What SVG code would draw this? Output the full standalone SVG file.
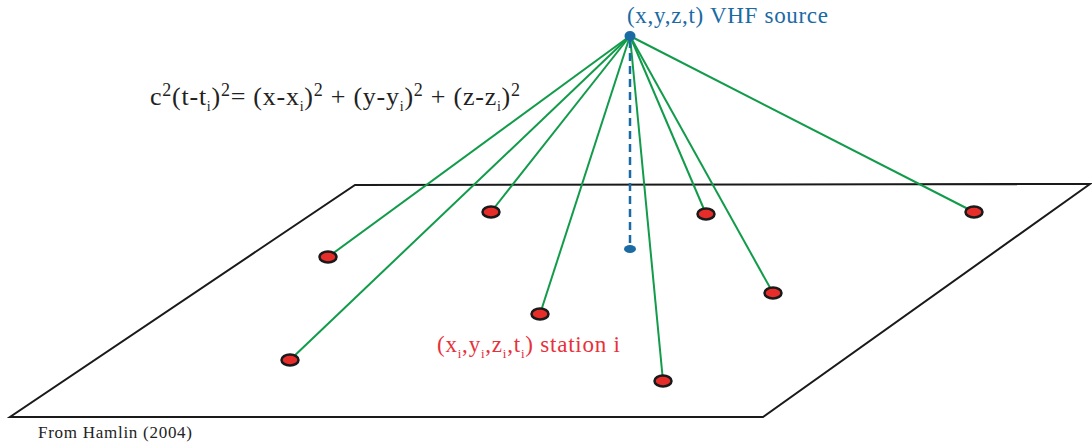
<svg xmlns="http://www.w3.org/2000/svg" width="1092" height="447" viewBox="0 0 1092 447">
<style>
.conn{stroke:#119b4a;stroke-width:2;fill:none}
.st{fill:#e62d2a;stroke:#1a1a1a;stroke-width:2.5}
.t{font-family:"Liberation Serif",serif}
</style>
<rect width="1092" height="447" fill="#fff"/>
<g id="plane"><polygon points="355,185 1090,184 763,417 10,417" fill="none" stroke="#1a1a1a" stroke-width="2"/></g>
<g id="connectors">
<line class="conn" x1="630" y1="36" x2="328" y2="257"/>
<line class="conn" x1="630" y1="36" x2="491" y2="212"/>
<line class="conn" x1="630" y1="36" x2="540" y2="314"/>
<line class="conn" x1="630" y1="36" x2="706" y2="214"/>
<line class="conn" x1="630" y1="36" x2="773" y2="293"/>
<line class="conn" x1="630" y1="36" x2="974" y2="212"/>
<line class="conn" x1="630" y1="36" x2="290" y2="360"/>
<line class="conn" x1="630" y1="36" x2="663" y2="381"/>
<line x1="630" y1="40" x2="630" y2="247" stroke="#1a6aa3" stroke-width="2.5" stroke-dasharray="8,5"/>
</g>
<g id="source"><ellipse cx="630" cy="36" rx="5.5" ry="5" fill="#1a6aa3"/>
<text class="t" x="627" y="23" font-size="23" fill="#1a6aa3" textLength="201">(x,y,z,t) VHF source</text></g>
<g id="projection"><ellipse cx="630" cy="249" rx="6" ry="4" fill="#1a6aa3"/></g>
<g id="stations">
<ellipse class="st" cx="328" cy="257" rx="8.5" ry="5.5"/>
<ellipse class="st" cx="491" cy="212" rx="8.5" ry="5.5"/>
<ellipse class="st" cx="540" cy="314" rx="8.5" ry="5.5"/>
<ellipse class="st" cx="706" cy="214" rx="8.5" ry="5.5"/>
<ellipse class="st" cx="773" cy="293" rx="8.5" ry="5.5"/>
<ellipse class="st" cx="974" cy="212" rx="8.5" ry="5.5"/>
<ellipse class="st" cx="290" cy="360" rx="8.5" ry="5.5"/>
<ellipse class="st" cx="663" cy="381" rx="8.5" ry="5.5"/>
</g>
<g id="equation"><text class="t" x="150" y="105" font-size="26" fill="#222" textLength="370">c<tspan font-size="18" dy="-9">2</tspan><tspan dy="9">(t-t</tspan><tspan font-size="14" dy="6">i</tspan><tspan dy="-6">)</tspan><tspan font-size="18" dy="-9">2</tspan><tspan dy="9">= (x-x</tspan><tspan font-size="14" dy="6">i</tspan><tspan dy="-6">)</tspan><tspan font-size="18" dy="-9">2</tspan><tspan dy="9"> + (y-y</tspan><tspan font-size="14" dy="6">i</tspan><tspan dy="-6">)</tspan><tspan font-size="18" dy="-9">2</tspan><tspan dy="9"> + (z-z</tspan><tspan font-size="14" dy="6">i</tspan><tspan dy="-6">)</tspan><tspan font-size="18" dy="-9">2</tspan></text></g>
<g id="station-label"><text class="t" x="437" y="352" font-size="23" fill="#e8303a" textLength="183">(x<tspan font-size="13" dy="6">i</tspan><tspan dy="-6">,y</tspan><tspan font-size="13" dy="6">i</tspan><tspan dy="-6">,z</tspan><tspan font-size="13" dy="6">i</tspan><tspan dy="-6">,t</tspan><tspan font-size="13" dy="6">i</tspan><tspan dy="-6">) station i</tspan></text></g>
<g id="credit"><text class="t" x="38" y="438" font-size="17" fill="#222" textLength="154">From Hamlin (2004)</text></g>
</svg>
